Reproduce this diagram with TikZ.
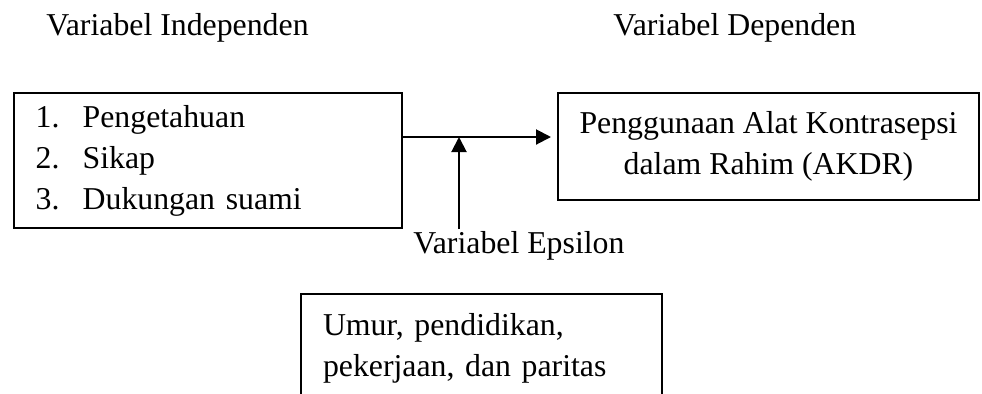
\documentclass[tikz,border=0pt]{standalone}
\usepackage{fontspec}
\setmainfont{Liberation Serif}
\usetikzlibrary{arrows.meta,positioning}
\newcommand{\diagfont}{\fontsize{15.9pt}{20.5pt}\selectfont}
\tikzset{
  box/.style={draw, line width=1pt, rectangle, inner ysep=0pt, font=\diagfont},
  flow/.style={-{Triangle[length=7.5pt, width=7.5pt]}, line width=1pt},
  lbl/.style={font=\diagfont, inner sep=0pt, anchor=base west},
}
\newcommand{\numitem}[2]{\makebox[23.5pt][l]{#1}#2}

\begin{document}
\begin{tikzpicture}[x=0.5pt, y=-0.5pt]
\useasboundingbox (0,0) rectangle (982,393);
\clip (0,0) rectangle (982,393);

%% headings
\node[lbl] (hindep) at (46,35) {Variabel Independen};
\node[lbl] (hdep) at (613,35) {Variabel Dependen};

%% boxes
\node[box, anchor=north west, minimum width=194pt, minimum height=67.5pt,
      inner xsep=11pt, text width=172pt, align=left] (indep) at (12.7,92)
  {\numitem{1.}{Pengetahuan}\\ \numitem{2.}{Sikap}\\ \numitem{3.}{Dukungan suami}};
\node[box, anchor=north west, minimum width=210.5pt, minimum height=53.5pt,
      align=center] (dep) at (557,92)
  {Penggunaan Alat Kontrasepsi\\ dalam Rahim (AKDR)};
\node[box, anchor=north east, minimum width=180.5pt, minimum height=54pt,
      inner xsep=11pt, text width=158.5pt, align=left] (eps) at (663,293)
  {Umur, pendidikan,\\ pekerjaan, dan paritas};
\node[lbl] (epslbl) at (413,253) {Variabel Epsilon};

%% arrows
\coordinate (join) at (459,137);
\draw[flow, shorten >=3pt] (indep.east |- join) -- (dep.west |- join);
\draw[flow] (join |- indep.south) -- (join);

\end{tikzpicture}
\end{document}
